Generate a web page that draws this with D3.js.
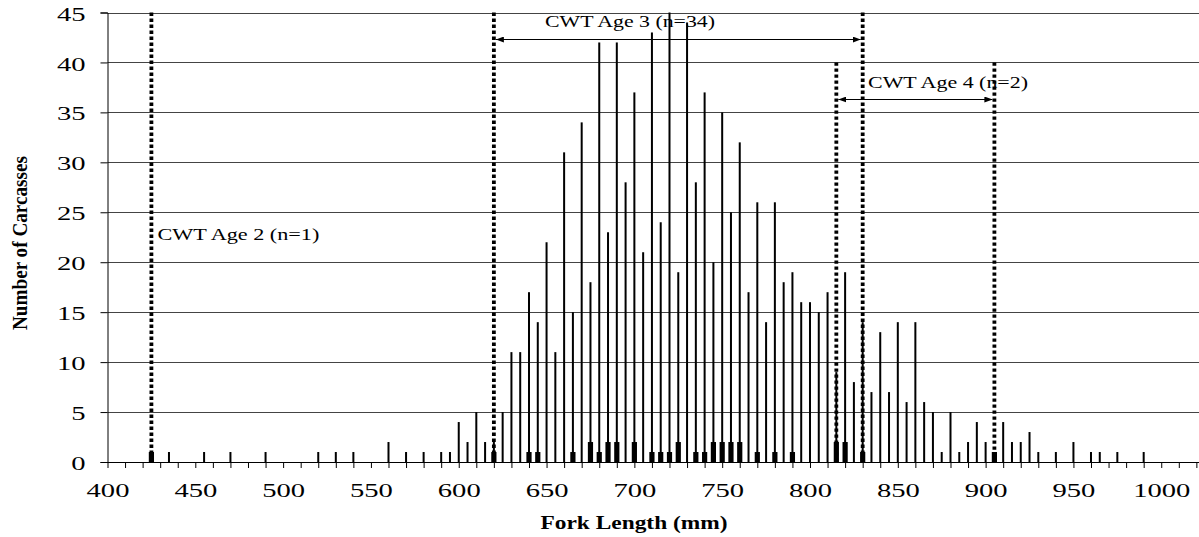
<!DOCTYPE html>
<html><head><meta charset="utf-8">
<script src="https://cdn.jsdelivr.net/npm/d3@7"></script>
<style>
body{margin:0;background:#fff}
svg{display:block}
text{font-family:"Liberation Serif","Times New Roman",serif;fill:#000}
</style>
</head><body>
<svg id="chart" width="1199" height="537"></svg>
<script>
// ---- data ----
const forkLengths = [425,435,455,470,490,520,530,540,560,570,580,590,595,600,605,610,615,620,625,630,635,640,645,650,655,660,665,670,675,680,685,690,695,700,705,710,715,720,725,730,735,740,745,750,755,760,765,770,775,780,785,790,795,800,805,810,815,820,825,830,835,840,845,850,855,860,865,870,875,880,885,890,895,900,905,910,915,920,925,930,940,950,960,965,975,990];
const totalCounts = [1,1,1,1,1,1,1,1,2,1,1,1,1,4,2,5,2,2,5,11,11,17,14,22,11,31,15,34,18,42,23,42,28,37,21,43,24,45,19,44,28,37,20,35,25,32,17,26,14,26,18,19,16,16,15,17,9,19,8,14,7,13,7,14,6,14,6,5,1,5,1,2,4,2,1,4,2,2,3,1,1,2,1,1,1,1];
const cwtLengths = [425,620,640,645,665,675,680,685,690,700,710,715,720,725,735,740,745,750,755,760,770,780,790,815,820,830,905];
const cwtCounts  = [1,1,1,1,1,2,1,2,2,2,1,1,1,2,1,1,2,2,2,2,1,1,1,2,2,1,1];
const xTickValues = d3.range(400, 1021, 10);
const xLabelValues = [400,450,500,550,600,650,700,750,800,850,900,950,1000];
const yTickValues = [0,5,10,15,20,25,30,35,40,45];
const ageLinePositions = [425,620,830,815,905];
const ageLineTops = [45,45,45,40,40];
const ageLabels = ["CWT Age 2 (n=1)","CWT Age 3 (n=34)","CWT Age 4 (n=2)"];

// ---- layout ----
const svg = d3.select("#chart");
const x = d3.scaleLinear().domain([400, 1021.5]).range([107.5, 1199]);
const y = d3.scaleLinear().domain([0, 45]).range([462, 12.5]);

const defs = svg.append("defs");
defs.append("marker").attr("id","arr").attr("viewBox","0 0 8 6")
  .attr("refX",8).attr("refY",3).attr("markerWidth",8).attr("markerHeight",6)
  .attr("markerUnits","userSpaceOnUse").attr("orient","auto-start-reverse")
  .append("path").attr("d","M0,0L8,3L0,6Z").attr("fill","#000");

// gridlines
svg.append("g").selectAll("line").data(yTickValues.filter(d=>d>0)).join("line")
  .attr("x1",x(400)).attr("x2",1199)
  .attr("y1",d=>Math.round(y(d))+0.5).attr("y2",d=>Math.round(y(d))+0.5)
  .attr("stroke","#444").attr("stroke-width",1);

// total bars
svg.append("g").selectAll("rect").data(forkLengths).join("rect")
  .attr("x",(d)=>x(d)-1).attr("width",2)
  .attr("y",(d,i)=>y(totalCounts[i])).attr("height",(d,i)=>y(0)-y(totalCounts[i]))
  .attr("fill","#000");

// CWT bars
svg.append("g").selectAll("rect").data(cwtLengths).join("rect")
  .attr("x",(d)=>x(d)-2.6).attr("width",5.2)
  .attr("y",(d,i)=>y(cwtCounts[i])).attr("height",(d,i)=>y(0)-y(cwtCounts[i]))
  .attr("fill","#000");

// age dotted lines
svg.append("g").selectAll("line").data(ageLinePositions).join("line")
  .attr("x1",d=>x(d)).attr("x2",d=>x(d))
  .attr("y1",(d,i)=>y(ageLineTops[i])).attr("y2",y(0))
  .attr("stroke","#000").attr("stroke-width",3.8).attr("stroke-dasharray","3.4,2.6");

// arrows
const arrows = [[620,830,42.3],[815,905,36.3]];
svg.append("g").selectAll("line").data(arrows).join("line")
  .attr("x1",d=>x(d[0])+2).attr("x2",d=>x(d[1])-2)
  .attr("y1",d=>Math.round(y(d[2]))+0.5).attr("y2",d=>Math.round(y(d[2]))+0.5)
  .attr("stroke","#000").attr("stroke-width",1)
  .attr("marker-start","url(#arr)").attr("marker-end","url(#arr)");

// annotations
svg.append("text").attr("x",x(425)+6).attr("y",y(22.2)).attr("font-size",17)
  .attr("textLength",162).attr("lengthAdjust","spacingAndGlyphs").text(ageLabels[0]);
svg.append("text").attr("x",545).attr("y",y(43.5)).attr("font-size",17)
  .attr("textLength",170).attr("lengthAdjust","spacingAndGlyphs").text(ageLabels[1]);
svg.append("text").attr("x",868).attr("y",y(37.4)).attr("font-size",17)
  .attr("textLength",160).attr("lengthAdjust","spacingAndGlyphs").text(ageLabels[2]);

// y axis
const yAxis = svg.append("g").attr("transform",`translate(${x(400)},0)`)
  .call(d3.axisLeft(y).tickValues(yTickValues).tickSize(7).tickPadding(15).tickFormat(d3.format("d")));
yAxis.select(".domain").attr("stroke","#000");
yAxis.selectAll(".tick line").attr("stroke","#000");
yAxis.selectAll(".tick text").attr("font-family",null).attr("font-size",18).attr("fill","#000")
  .attr("dy","0.42em")
  .attr("textLength",d=>String(d).length*14.3).attr("lengthAdjust","spacingAndGlyphs");

// x axis
const xAxis = svg.append("g").attr("transform",`translate(0,${y(0)})`)
  .call(d3.axisBottom(x).tickValues(xTickValues).tickSize(6).tickPadding(16)
    .tickFormat(d=>xLabelValues.includes(d)?String(d):""));
xAxis.select(".domain").attr("stroke","#000").attr("d",`M${x(400)},0.5H1199`);
xAxis.selectAll(".tick line").attr("stroke","#000");
xAxis.selectAll(".tick text").attr("font-family",null).attr("font-size",18).attr("fill","#000")
  .attr("textLength",d=>xLabelValues.includes(d)?String(d).length*14.3:null)
  .attr("lengthAdjust","spacingAndGlyphs");

// axis titles
svg.append("text").attr("x",634).attr("y",529).attr("text-anchor","middle")
  .attr("font-size",18).attr("font-weight","bold")
  .attr("textLength",187).attr("lengthAdjust","spacingAndGlyphs").text("Fork Length (mm)");
svg.append("text").attr("transform","translate(27,243) rotate(-90)").attr("text-anchor","middle")
  .attr("font-size",22).attr("font-weight","bold")
  .attr("textLength",174).attr("lengthAdjust","spacingAndGlyphs").text("Number of Carcasses");
</script>
</body></html>
